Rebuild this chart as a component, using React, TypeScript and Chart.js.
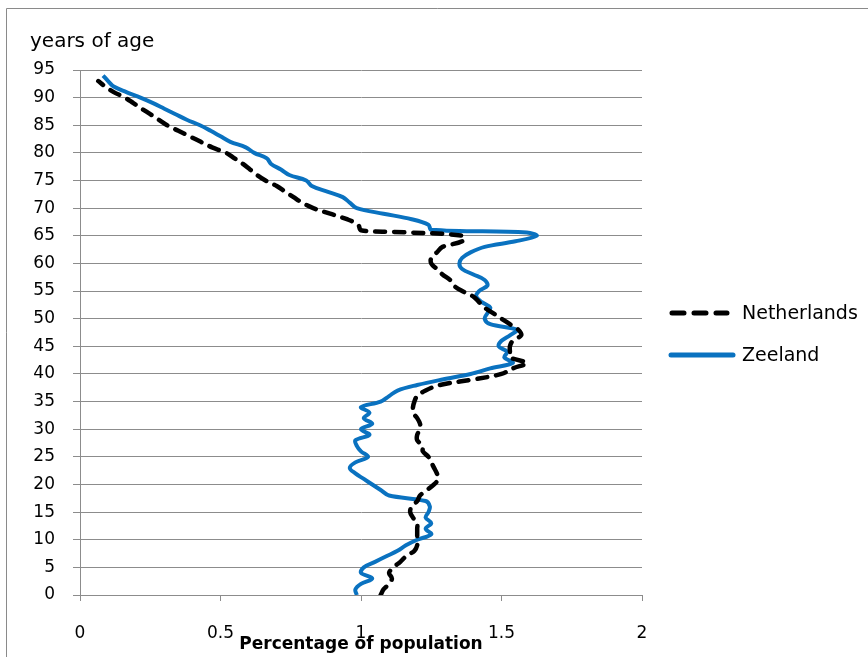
import React, { useEffect, useRef } from "react";
import { Chart, registerables } from "chart.js";

Chart.register(...registerables);

// ---- data ----
const zeelandAges = [
  0, 1, 2, 3, 4, 5, 6, 7, 8, 9, 10, 11, 12, 13, 14, 15, 16, 17, 18, 19, 20,
  21, 22, 23, 24, 25, 26, 27, 28, 29, 30, 31, 32, 33, 34, 35, 36, 37, 38, 39,
  40, 41, 42, 43, 44, 45, 46, 47, 48, 49, 50, 51, 52, 53, 54, 55, 56, 57, 58,
  59, 60, 61, 62, 63, 64, 65, 65.6, 66.1, 67, 68, 69, 70, 71, 72, 73, 74, 75,
  76, 77, 78, 79, 80, 81, 82, 83, 84, 85, 86, 87, 88, 89, 90, 91, 92, 93, 94,
];
const zeelandPct = [
  0.985, 0.98, 1.0, 1.04, 1.0, 1.01, 1.05, 1.09, 1.13, 1.16, 1.2, 1.25, 1.23,
  1.25, 1.23, 1.24, 1.245, 1.23, 1.1, 1.07, 1.04, 1.01, 0.98, 0.96, 0.98,
  1.025, 1.0, 0.985, 0.98, 1.03, 1.0, 1.04, 1.01, 1.03, 1.0, 1.07, 1.1, 1.13,
  1.2, 1.29, 1.39, 1.46, 1.54, 1.51, 1.52, 1.49, 1.5, 1.53, 1.555, 1.46, 1.44,
  1.45, 1.46, 1.43, 1.41, 1.42, 1.45, 1.44, 1.4, 1.36, 1.35, 1.36, 1.39, 1.44,
  1.55, 1.625, 1.59, 1.25, 1.24, 1.18, 1.08, 0.985, 0.96, 0.935, 0.88, 0.825,
  0.805, 0.745, 0.715, 0.68, 0.665, 0.62, 0.59, 0.535, 0.5, 0.465, 0.427, 0.38,
  0.34, 0.3, 0.26, 0.215, 0.165, 0.12, 0.1, 0.082,
];

const netherlandsAges = [
  0, 1, 2, 3, 4, 5, 6, 7, 8, 9, 10, 11, 12, 13, 14, 15, 16, 17, 18, 19, 20,
  21, 22, 23, 24, 25, 26, 27, 28, 29, 30, 31, 32, 33, 34, 35, 36, 37, 38, 39,
  40, 41, 42, 43, 44, 45, 46, 47, 48, 49, 50, 51, 52, 53, 54, 55, 56, 57, 58,
  59, 60, 61, 62, 63, 64, 65, 65.7, 66, 67, 68, 69, 70, 71, 72, 73, 74, 75,
  76, 77, 78, 79, 80, 81, 82, 83, 84, 85, 86, 87, 88, 89, 90, 91, 92, 93,
];
const netherlandsPct = [
  1.07, 1.08, 1.1, 1.11, 1.1, 1.115, 1.14, 1.16, 1.19, 1.2, 1.2, 1.2, 1.2,
  1.2, 1.185, 1.175, 1.18, 1.2, 1.21, 1.235, 1.26, 1.275, 1.27, 1.26, 1.25,
  1.24, 1.22, 1.22, 1.2, 1.2, 1.21, 1.21, 1.2, 1.185, 1.185, 1.19, 1.2, 1.23,
  1.28, 1.4, 1.5, 1.54, 1.59, 1.53, 1.53, 1.53, 1.54, 1.57, 1.56, 1.53, 1.5,
  1.47, 1.44, 1.42, 1.4, 1.36, 1.33, 1.317, 1.29, 1.27, 1.25, 1.25, 1.27,
  1.29, 1.36, 1.365, 1.12, 1.0, 0.99, 0.95, 0.89, 0.83, 0.79, 0.76, 0.73, 0.7,
  0.66, 0.63, 0.605, 0.58, 0.55, 0.52, 0.47, 0.43, 0.39, 0.35, 0.31, 0.28,
  0.25, 0.22, 0.19, 0.16, 0.12, 0.09, 0.065,
];

const seriesNames = ["Netherlands", "Zeeland"];
const yAxisLabel = "years of age";
const xAxisLabel = "Percentage of population";

const FONT = "'DejaVu Sans', sans-serif";
const BLUE = "#0a72c0";
const GRID = "#8c8c8c";

const extrasPlugin = {
  id: "extras",
  beforeDraw(chart: any) {
    const ctx = chart.ctx;
    ctx.save();
    ctx.strokeStyle = "#8a8a8a";
    ctx.lineWidth = 1;
    ctx.beginPath();
    ctx.moveTo(6.5, chart.height);
    ctx.lineTo(6.5, 8.5);
    ctx.lineTo(chart.width, 8.5);
    ctx.stroke();
    ctx.restore();
  },
  afterDraw(chart: any) {
    const ctx = chart.ctx;
    ctx.save();
    ctx.fillStyle = "#000";
    ctx.font = `20px ${FONT}`;
    ctx.textBaseline = "alphabetic";
    ctx.textAlign = "left";
    ctx.fillText(yAxisLabel, 30, 47);

    // legend
    const lx0 = 671;
    const lx1 = 733;
    const rows = [313, 355];
    ctx.font = `19px ${FONT}`;
    ctx.textBaseline = "middle";
    // Netherlands
    ctx.beginPath();
    ctx.strokeStyle = "#000";
    ctx.lineWidth = 5;
    ctx.lineCap = "round";
    ctx.setLineDash([12, 10]);
    ctx.moveTo(lx0 + 1, rows[0]);
    ctx.lineTo(lx1 - 6, rows[0]);
    ctx.stroke();
    ctx.setLineDash([]);
    ctx.fillText(seriesNames[0], 742, rows[0] + 1);
    // Zeeland
    ctx.beginPath();
    ctx.strokeStyle = BLUE;
    ctx.lineWidth = 5;
    ctx.lineCap = "round";
    ctx.moveTo(lx0, rows[1]);
    ctx.lineTo(lx1, rows[1]);
    ctx.stroke();
    ctx.fillText(seriesNames[1], 742, rows[1] + 1);
    ctx.restore();
  },
};

export default function App() {
  const ref = useRef<HTMLCanvasElement>(null);
  useEffect(() => {
    if (!ref.current) return;
    const toPts = (ages: number[], vals: number[]) =>
      ages.map((a, i) => ({ x: vals[i], y: a }));
    const chart = new Chart(ref.current, {
      type: "line",
      data: {
        datasets: [
          {
            label: seriesNames[0],
            data: toPts(netherlandsAges, netherlandsPct),
            borderColor: "#000",
            borderWidth: 4.5,
            borderDash: [10, 9],
            borderCapStyle: "round",
            tension: 0.35,
            pointRadius: 0,
            fill: false,
          },
          {
            label: seriesNames[1],
            data: toPts(zeelandAges, zeelandPct),
            borderColor: BLUE,
            borderWidth: 4,
            tension: 0.35,
            pointRadius: 0,
            fill: false,
          },
        ],
      },
      options: {
        animation: false,
        responsive: false,
        maintainAspectRatio: false,
        indexAxis: "y",
        layout: { padding: { top: 70, right: 226, bottom: 0, left: 0 } },
        plugins: {
          legend: { display: false },
          tooltip: { enabled: false },
          title: { display: false },
        },
        scales: {
          x: {
            type: "linear",
            min: 0,
            max: 2,
            ticks: {
              stepSize: 0.5,
              color: "#000",
              font: { family: FONT, size: 17 },
              padding: 22,
              maxRotation: 0,
              callback: (v: any) => `${Number(v)}`,
            },
            grid: {
              drawOnChartArea: false,
              drawTicks: true,
              tickLength: 6,
              color: GRID,
            },
            border: { display: true, color: GRID },
            title: {
              display: true,
              text: xAxisLabel,
              color: "#000",
              font: { family: FONT, size: 17, weight: "bold" },
              padding: { top: 2, bottom: 2 },
            },
            afterFit: (s: any) => {
              s.height = 62;
            },
          },
          y: {
            type: "linear",
            min: 0,
            max: 95,
            ticks: {
              stepSize: 5,
              color: "#000",
              font: { family: FONT, size: 17 },
              padding: 18,
            },
            grid: { color: GRID, tickLength: 7, drawTicks: true },
            border: { display: true, color: GRID },
            afterFit: (s: any) => {
              s.width = 80;
            },
          },
        },
      },
      plugins: [extrasPlugin],
    } as any);
    return () => chart.destroy();
  }, []);
  return (
    <div
      style={{
        position: "fixed",
        left: 0,
        top: 0,
        width: 868,
        height: 657,
        background: "#fff",
        overflow: "hidden",
      }}
    >
      <canvas ref={ref} width={868} height={657} style={{ display: "block" }} />
    </div>
  );
}
